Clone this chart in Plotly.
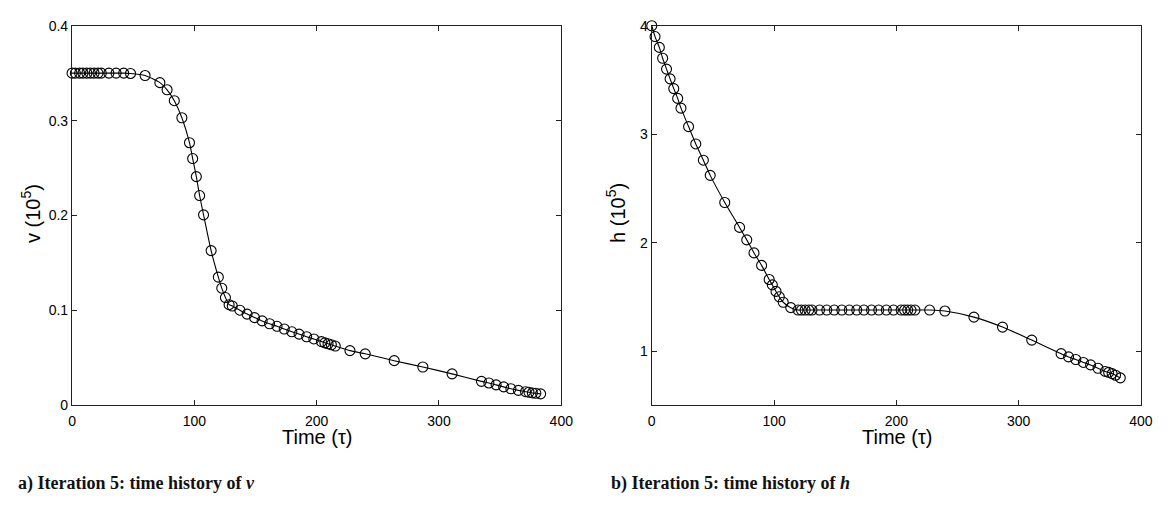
import plotly.graph_objects as go

# Shared time grid (tau) of the solution nodes
time = [0, 2.7, 6.2, 8.9, 12.1, 15, 18, 21.2, 23.9, 30.1, 36, 42.2, 47.8,
        59.7, 71.8, 77.7, 83.6, 89.8, 96, 98.6, 101.6, 104.3,
        107.5, 113.7, 119.6, 122.4, 125.4, 128.4, 131,
        137.2, 143.1, 149.2, 155.4, 161.5, 167.6, 173.5, 179.7, 185.6, 191.8, 197.7, 203.9,
        206.7, 209.3, 212, 215.2,
        227.2, 239.7, 263.4, 286.8, 310.7,
        334.7, 340.8, 346.7, 352.9, 358.8, 364.9, 370.8, 373.6, 376.4, 379.2, 383.1]

# Velocity v (units of 1e5)
v_hist = [0.350, 0.350, 0.350, 0.350, 0.350, 0.350, 0.350, 0.350, 0.350, 0.350, 0.350, 0.350, 0.3497,
          0.3475, 0.340, 0.3325, 0.321, 0.303, 0.2767, 0.260, 0.241, 0.221,
          0.2007, 0.163, 0.135, 0.1234, 0.1135, 0.106, 0.1046,
          0.1002, 0.0961, 0.0924, 0.0889, 0.0859, 0.0832, 0.0804, 0.0774, 0.075, 0.0722, 0.0699, 0.0671,
          0.0658, 0.0648, 0.0638, 0.0624,
          0.0576, 0.0542, 0.047, 0.0403, 0.0331,
          0.0252, 0.0235, 0.0215, 0.0194, 0.0174, 0.0157, 0.0143, 0.0137, 0.013, 0.0127, 0.012]

# Altitude h (units of 1e5)
h_hist = [4.0, 3.90, 3.80, 3.70, 3.60, 3.51, 3.42, 3.33, 3.24, 3.07, 2.91, 2.76, 2.62,
          2.37, 2.14, 2.025, 1.905, 1.79, 1.66, 1.61, 1.55, 1.50,
          1.45, 1.40, 1.378, 1.378, 1.378, 1.378, 1.378,
          1.378, 1.378, 1.378, 1.378, 1.378, 1.378, 1.378, 1.378, 1.378, 1.378, 1.378, 1.378,
          1.378, 1.378, 1.378, 1.378,
          1.378, 1.369, 1.313, 1.221, 1.101,
          0.976, 0.946, 0.922, 0.895, 0.872, 0.841, 0.812, 0.803, 0.792, 0.777, 0.753]

x_ticks = [0, 100, 200, 300, 400]
v_ticks = [0, 0.1, 0.2, 0.3, 0.4]
h_ticks = [1, 2, 3, 4]

W, H = 1173, 515
SANS = "Liberation Sans, Arial, Helvetica, sans-serif"
SERIF = "Liberation Serif, Times New Roman, serif"
AX = "#222222"

fig = go.Figure()

for xa, ya, yvals in (("x", "y", v_hist), ("x2", "y2", h_hist)):
    fig.add_trace(go.Scatter(
        x=time, y=yvals, xaxis=xa, yaxis=ya, mode="lines+markers",
        line=dict(color="black", width=1.1, shape="spline", smoothing=0.6),
        marker=dict(symbol="circle-open", size=10, color="black",
                    line=dict(color="black", width=1.1)),
        showlegend=False, cliponaxis=False,
    ))

ydom = [1 - 410 / H, 1 - 18.3 / H]
axis_common = dict(
    showline=True, linecolor=AX, linewidth=1.3, mirror="ticks",
    ticks="inside", ticklen=5, tickwidth=1.3, tickcolor=AX,
    showgrid=False, zeroline=False,
    tickfont=dict(family=SANS, size=14, color="black"),
)
xaxis_extra = dict(ticklabelstandoff=3)

fig.update_layout(
    width=W, height=H,
    margin=dict(l=0, r=0, t=0, b=0),
    paper_bgcolor="white", plot_bgcolor="white",
    xaxis=dict(domain=[69 / W, 565 / W], range=[0, 400], tickvals=x_ticks,
               anchor="y", **axis_common, **xaxis_extra),
    yaxis=dict(domain=ydom, range=[0, 0.4], tickvals=v_ticks,
               ticktext=["0", "0.1", "0.2", "0.3", "0.4"], anchor="x", **axis_common),
    xaxis2=dict(domain=[656.7 / W, 1152.7 / W], range=[0, 400], tickvals=x_ticks,
                anchor="y2", **axis_common, **xaxis_extra),
    yaxis2=dict(domain=ydom, range=[0.5, 4], tickvals=h_ticks, anchor="x2", **axis_common),
)

title_font = dict(family=SANS, size=20, color="black")
annotations = [
    # axis titles
    dict(x=317.5 / W, y=1 - 443 / H, text="Time (τ)"),
    dict(x=905 / W, y=1 - 443 / H, text="Time (τ)"),
    dict(x=27 / W, y=1 - 212 / H, text="v (10<sup>5</sup>)", textangle=-90),
    dict(x=620 / W, y=1 - 212 / H, text="h (10<sup>5</sup>)", textangle=-90),
]
for a in annotations:
    a.update(xref="paper", yref="paper", xanchor="center", yanchor="middle",
             showarrow=False, font=title_font)

cap_font = dict(family=SERIF, size=18, color="#111111")
annotations += [
    dict(x=12 / W, y=1 - 491 / H, text="<b>a) Iteration 5: time history of <i>v</i></b>"),
    dict(x=613 / W, y=1 - 491 / H, text="<b>b) Iteration 5: time history of <i>h</i></b>"),
]
for a in annotations[-2:]:
    a.update(xref="paper", yref="paper", xanchor="left", yanchor="middle",
             showarrow=False, font=cap_font)

fig.update_layout(annotations=annotations)

# page without body margin so the figure fills the window exactly
fig.write_html("out.html", post_script="document.body.style.margin='0';")
